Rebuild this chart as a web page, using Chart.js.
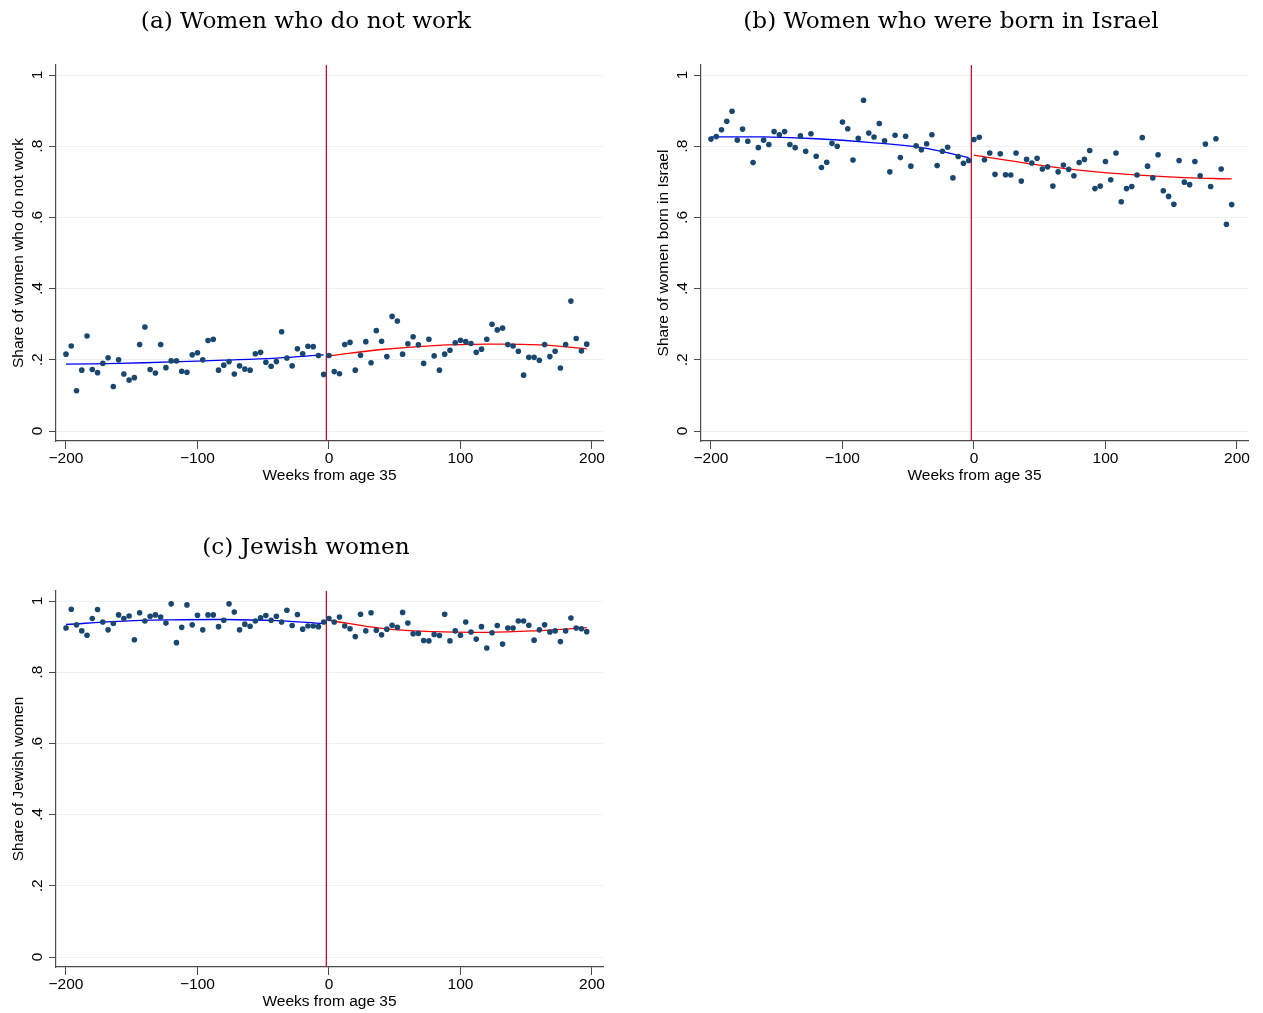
<!DOCTYPE html>
<html>
<head>
<meta charset="utf-8">
<script src="https://cdn.jsdelivr.net/npm/chart.js@4.4.1/dist/chart.umd.min.js"></script>
<style>
  body { margin: 0; background: #fff; overflow: hidden; }
  canvas { position: absolute; }
</style>
</head>
<body>
<canvas id="chartA" width="615" height="495" style="left:0px;top:0px"></canvas>
<canvas id="chartB" width="615" height="495" style="left:645px;top:0px"></canvas>
<canvas id="chartC" width="615" height="495" style="left:0px;top:526px"></canvas>
<script>
// weeks from age 35 (bin centres)
const weeks = [
  -200,-196,-192,-188,-184,-180,-176,-172,-168,-164,
  -160,-156,-152,-148,-144,-140,-136,-132,-128,-124,
  -120,-116,-112,-108,-104,-100,-96,-92,-88,-84,
  -80,-76,-72,-68,-64,-60,-56,-52,-48,-44,
  -40,-36,-32,-28,-24,-20,-16,-12,-8,-4,
  0,4,8,12,16,20,24,28,32,36,
  40,44,48,52,56,60,64,68,72,76,
  80,84,88,92,96,100,104,108,112,116,
  120,124,128,132,136,140,144,148,152,156,
  160,164,168,172,176,180,184,188,192,196
];

const notWorkShare = [
  .216,.239,.113,.171,.267,.173,.164,.190,.206,.125,
  .200,.160,.143,.150,.243,.292,.173,.163,.243,.178,
  .197,.197,.168,.165,.214,.220,.200,.254,.258,.171,
  .185,.195,.160,.183,.174,.171,.217,.221,.193,.182,
  .195,.279,.205,.183,.231,.217,.238,.237,.212,.159,
  .212,.167,.161,.243,.249,.171,.213,.251,.192,.282,
  .252,.209,.322,.309,.216,.245,.265,.242,.190,.258,
  .211,.171,.216,.227,.248,.255,.251,.246,.221,.230,
  .258,.300,.284,.289,.243,.239,.224,.157,.207,.207,
  .199,.243,.209,.224,.177,.243,.365,.260,.225,.244
];

const bornIsraelShare = [
  .820,.827,.846,.870,.898,.817,.848,.814,.754,.796,
  .817,.805,.841,.832,.841,.805,.796,.829,.786,.835,
  .772,.740,.755,.808,.800,.868,.849,.761,.822,.929,
  .837,.826,.864,.815,.728,.831,.768,.828,.744,.801,
  .790,.807,.832,.746,.786,.797,.711,.771,.752,.760,
  .819,.825,.762,.781,.721,.779,.720,.719,.781,.702,
  .763,.753,.766,.736,.742,.688,.728,.747,.735,.717,
  .754,.763,.788,.681,.688,.757,.706,.781,.644,.681,
  .687,.719,.824,.744,.711,.776,.675,.659,.637,.760,
  .699,.692,.757,.717,.806,.687,.821,.736,.581,.636
];

const jewishShare = [
  .924,.977,.933,.916,.904,.951,.976,.941,.919,.937,
  .961,.951,.958,.891,.967,.944,.957,.961,.955,.938,
  .992,.883,.926,.989,.933,.960,.919,.961,.961,.928,
  .946,.992,.969,.919,.935,.929,.944,.953,.959,.946,
  .957,.941,.974,.931,.962,.921,.930,.930,.928,.941,
  .951,.941,.955,.930,.922,.900,.963,.916,.967,.918,
  .905,.921,.932,.926,.968,.938,.908,.909,.889,.888,
  .906,.903,.963,.888,.916,.904,.941,.913,.893,.928,
  .868,.911,.931,.879,.924,.924,.944,.944,.932,.890,
  .919,.933,.913,.916,.886,.916,.952,.924,.922,.914
];

// fitted curves, read at a few weeks on each side of the cutoff
const fitWeeksLeft = [-200, -160, -120, -80, -40, -4];
const fitWeeksRight = [0, 40, 80, 120, 160, 196];
const notWorkFitLeft = [.188, .190, .194, .199, .205, .214];
const notWorkFitRight = [.211, .229, .240, .244, .242, .231];
const bornIsraelFitLeft = [.826, .826, .821, .811, .796, .768];
const bornIsraelFitRight = [.775, .752, .733, .720, .712, .708];
const jewishFitLeft = [.934, .943, .947, .948, .945, .937];
const jewishFitRight = [.946, .923, .914, .912, .917, .925];

const cutoffWeek = -2;
const xTicks = [-200, -100, 0, 100, 200];
const yTicks = [0, .2, .4, .6, .8, 1];

const tickFont = { family: 'Liberation Sans', size: 15.5 };
const axisGrey = '#4a4a4a';

// red vertical line at the cutoff
const cutoffLine = {
  id: 'cutoffLine',
  beforeDatasetsDraw(chart) {
    const { ctx, chartArea, scales } = chart;
    const x = scales.x.getPixelForValue(cutoffWeek);
    ctx.save();
    ctx.strokeStyle = '#c8102e';
    ctx.lineWidth = 1.3;
    ctx.beginPath();
    ctx.moveTo(x, chartArea.top);
    ctx.lineTo(x, chartArea.bottom);
    ctx.stroke();
    ctx.restore();
  }
};

function pairs(xs, ys) {
  return xs.map((x, i) => ({ x: x, y: ys[i] }));
}

function makeChart(id, title, yTitle, shares, fitL, fitR) {
  return new Chart(document.getElementById(id), {
    type: 'scatter',
    data: {
      datasets: [{
        data: pairs(weeks, shares),
        backgroundColor: '#1a476f',
        borderWidth: 0,
        pointRadius: 2.8
      }, {
        data: pairs(fitWeeksLeft, fitL),
        showLine: true,
        borderColor: '#0000ff',
        borderWidth: 1.3,
        pointRadius: 0,
        tension: 0.4
      }, {
        data: pairs(fitWeeksRight, fitR),
        showLine: true,
        borderColor: '#ff0000',
        borderWidth: 1.3,
        pointRadius: 0,
        tension: 0.4
      }]
    },
    options: {
      responsive: false,
      animation: false,
      layout: { padding: { left: 9, right: 12, top: 0, bottom: 0 } },
      plugins: {
        legend: { display: false },
        tooltip: { enabled: false },
        title: {
          display: true,
          text: title,
          color: '#000',
          font: { family: 'DejaVu Serif', size: 23.2, weight: 'normal' },
          padding: { top: 8, bottom: 29.2 }
        }
      },
      scales: {
        x: {
          min: -207.6,
          max: 208.4,
          afterBuildTicks: s => { s.ticks = xTicks.map(v => ({ value: v })); },
          afterFit: s => { s.height = 54; },
          border: { color: axisGrey, width: 1.2 },
          grid: { drawOnChartArea: false, tickColor: axisGrey, tickLength: 8 },
          ticks: {
            font: tickFont, color: '#000', padding: 0, maxRotation: 0,
            callback: v => String(v).replace('-', '\u2212')
          },
          title: {
            display: true, text: 'Weeks from age 35', font: tickFont, color: '#000',
            padding: { top: 0, bottom: 10 }
          }
        },
        y: {
          min: -0.028,
          max: 1.028,
          afterBuildTicks: s => { s.ticks = yTicks.map(v => ({ value: v })); },
          afterFit: s => { s.width = 47; },
          border: { color: axisGrey, width: 1.2 },
          grid: { color: '#eaf2f3', tickColor: axisGrey, tickLength: 7 },
          ticks: {
            font: tickFont, color: '#000', padding: 5,
            minRotation: 90, maxRotation: 90, crossAlign: 'center',
            callback: v => (v === 0 ? '0' : v === 1 ? '1' : String(v).replace('0.', '.'))
          },
          title: {
            display: true, text: yTitle, font: tickFont, color: '#000',
            padding: { top: 0, bottom: 0 }
          }
        }
      }
    },
    plugins: [cutoffLine]
  });
}

makeChart('chartA', '(a) Women who do not work', 'Share of women who do not work',
  notWorkShare, notWorkFitLeft, notWorkFitRight);
makeChart('chartB', '(b) Women who were born in Israel', 'Share of women born in Israel',
  bornIsraelShare, bornIsraelFitLeft, bornIsraelFitRight);
makeChart('chartC', '(c) Jewish women', 'Share of Jewish women',
  jewishShare, jewishFitLeft, jewishFitRight);
</script>
</body>
</html>
